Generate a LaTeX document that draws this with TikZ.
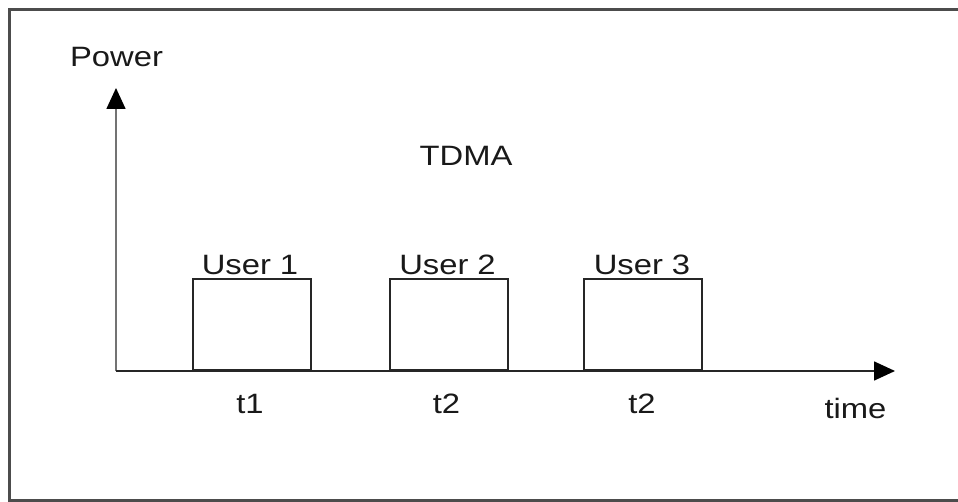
\documentclass[tikz,border=0pt]{standalone}
\usepackage{fontspec}
\setmainfont{Liberation Sans}[FakeStretch=1.17]
\usetikzlibrary{arrows.meta}
\begin{document}
\begin{tikzpicture}[x=1pt,y=-1pt,
  lbl/.style={anchor=base,inner sep=0pt,font=\fontsize{28}{30}\selectfont,text=black!90},
  slot/.style={draw=black!85,line width=1.6pt,minimum width=118pt,minimum height=91pt,anchor=south west,inner sep=0pt},
  axis/.style={line width=1.6pt,-{Triangle[length=21pt,width=19pt,color=black]}}]
\useasboundingbox (0,0) rectangle (958,502);
% frame (open at the right edge)
\draw[draw=black!70,line width=2.2pt] (960,9.5) -- (9.5,9.5) -- (9.5,500.5) -- (960,500.5);
% axes
\coordinate (o) at (116,371);
\coordinate (ytip) at (116,88);
\coordinate (xtip) at (895,371);
\draw[axis,draw=black!55] (o) -- (ytip);
\draw[axis,draw=black!85] (o) -- (xtip);
% time slots
\node[slot] (s1) at (192,371) {};
\node[slot] (s2) at (389,371) {};
\node[slot] (s3) at (583,371) {};
% labels
\node[lbl] (power) at (116.5,67) {Power};
\node[lbl] (tdma) at (466,166) {TDMA};
\node[lbl] (u1) at (250,275) {User 1};
\node[lbl] (u2) at (447.5,275) {User 2};
\node[lbl] (u3) at (642,275) {User 3};
\node[lbl] (t1) at (250,413) {t1};
\node[lbl] (t2) at (446.5,413) {t2};
\node[lbl] (t3) at (642,413) {t2};
\node[lbl] (time) at (855.5,418) {time};
\end{tikzpicture}
\end{document}
